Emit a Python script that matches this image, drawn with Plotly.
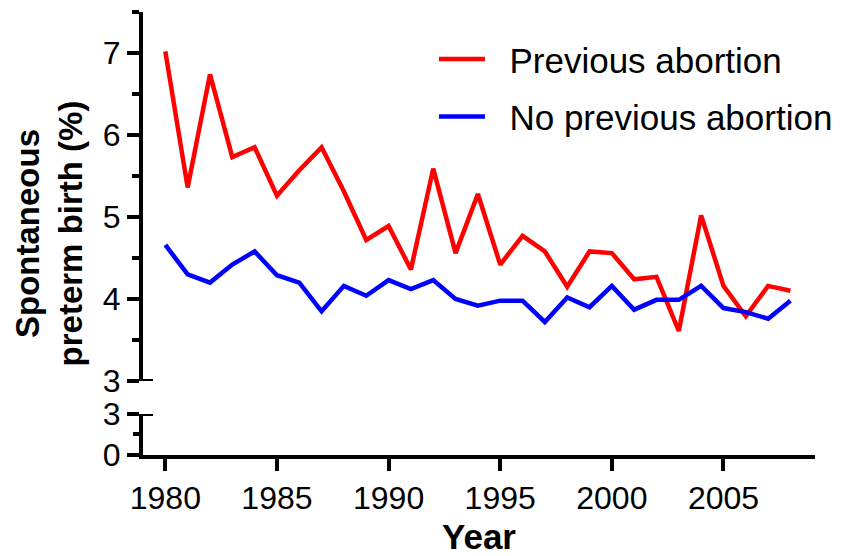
import plotly.graph_objects as go

years = list(range(1980, 2009))
previous_abortion = [7.02, 5.36, 6.74, 5.73, 5.85, 5.26, 5.57, 5.85, 5.31, 4.72,
                     4.89, 4.36, 5.59, 4.56, 5.28, 4.42, 4.77, 4.58, 4.15, 4.58,
                     4.56, 4.24, 4.27, 3.61, 5.02, 4.16, 3.79, 4.16, 4.10]
no_previous_abortion = [4.66, 4.30, 4.20, 4.42, 4.58, 4.29, 4.20, 3.85, 4.16, 4.04,
                        4.23, 4.12, 4.23, 4.00, 3.92, 3.98, 3.98, 3.72, 4.02, 3.90,
                        4.16, 3.87, 3.99, 3.99, 4.16, 3.89, 3.84, 3.76, 3.98]
series_names = ["Previous abortion", "No previous abortion"]
x_ticks = [1980, 1985, 1990, 1995, 2000, 2005]
upper_ticks = [3, 4, 5, 6, 7]
lower_ticks = [0, 3]

FONT = "Liberation Sans, Arial, sans-serif"
PAD = "&nbsp;&nbsp;"

fig = go.Figure()
fig.add_trace(go.Scatter(x=years, y=previous_abortion, mode="lines", name=PAD + series_names[0],
                         line=dict(color="#FF0000", width=4.5), legendgroup="a"))
fig.add_trace(go.Scatter(x=years, y=no_previous_abortion, mode="lines", name=PAD + series_names[1],
                         line=dict(color="#0000FF", width=4.5), legendgroup="b"))

axis_common = dict(showline=True, linecolor="black", linewidth=4, ticks="outside",
                   tickcolor="black", tickwidth=4, showgrid=False, zeroline=False,
                   automargin=False,
                   tickfont=dict(family=FONT, size=32, color="black"))

# page body has an 8px default margin, so the figure is 8px smaller
fig.update_layout(
    width=839, height=548,
    margin=dict(l=135, r=32, t=4, b=101, autoexpand=False),
    plot_bgcolor="white", paper_bgcolor="white",
    font=dict(family=FONT, color="black"),
    xaxis=dict(range=[1979, 2009.1], tickvals=x_ticks, ticklen=12, anchor="y2",
               title=dict(text="<b>Year</b>", font=dict(family=FONT, size=35), standoff=12),
               **axis_common),
    yaxis=dict(domain=[0.167, 1], range=[3, 7.5], tickvals=upper_ticks, ticklen=12,
               minor=dict(dtick=0.5, tick0=3, ticks="outside", ticklen=7, tickwidth=4, tickcolor="black"),
               anchor="x", **axis_common),
    yaxis2=dict(domain=[0, 0.0926], range=[0, 3], tickvals=lower_ticks, ticklen=12,
                minor=dict(tickvals=[1.5], ticks="outside", ticklen=6, tickwidth=4, tickcolor="black"),
                anchor="x", **axis_common),
    legend=dict(x=0.433, y=0.96, xanchor="left", yanchor="top", bgcolor="rgba(0,0,0,0)",
                font=dict(family=FONT, size=35, color="black"), tracegroupgap=9,
                itemwidth=46),
    showlegend=True,
)

# axis break marks
for yref in ["y", "y2"]:
    fig.add_shape(type="line", xref="paper", xsizemode="pixel", xanchor=0, x0=-12, x1=10,
                  yref=yref, y0=3, y1=3, line=dict(color="black", width=4))

fig.add_annotation(text="<b>Spontaneous<br>preterm birth (%)</b>", textangle=-90,
                   xref="paper", yref="paper", x=-0.140, y=0.5, xanchor="center", yanchor="middle",
                   showarrow=False, font=dict(family=FONT, size=33, color="black"))

fig.write_html("out.html")
